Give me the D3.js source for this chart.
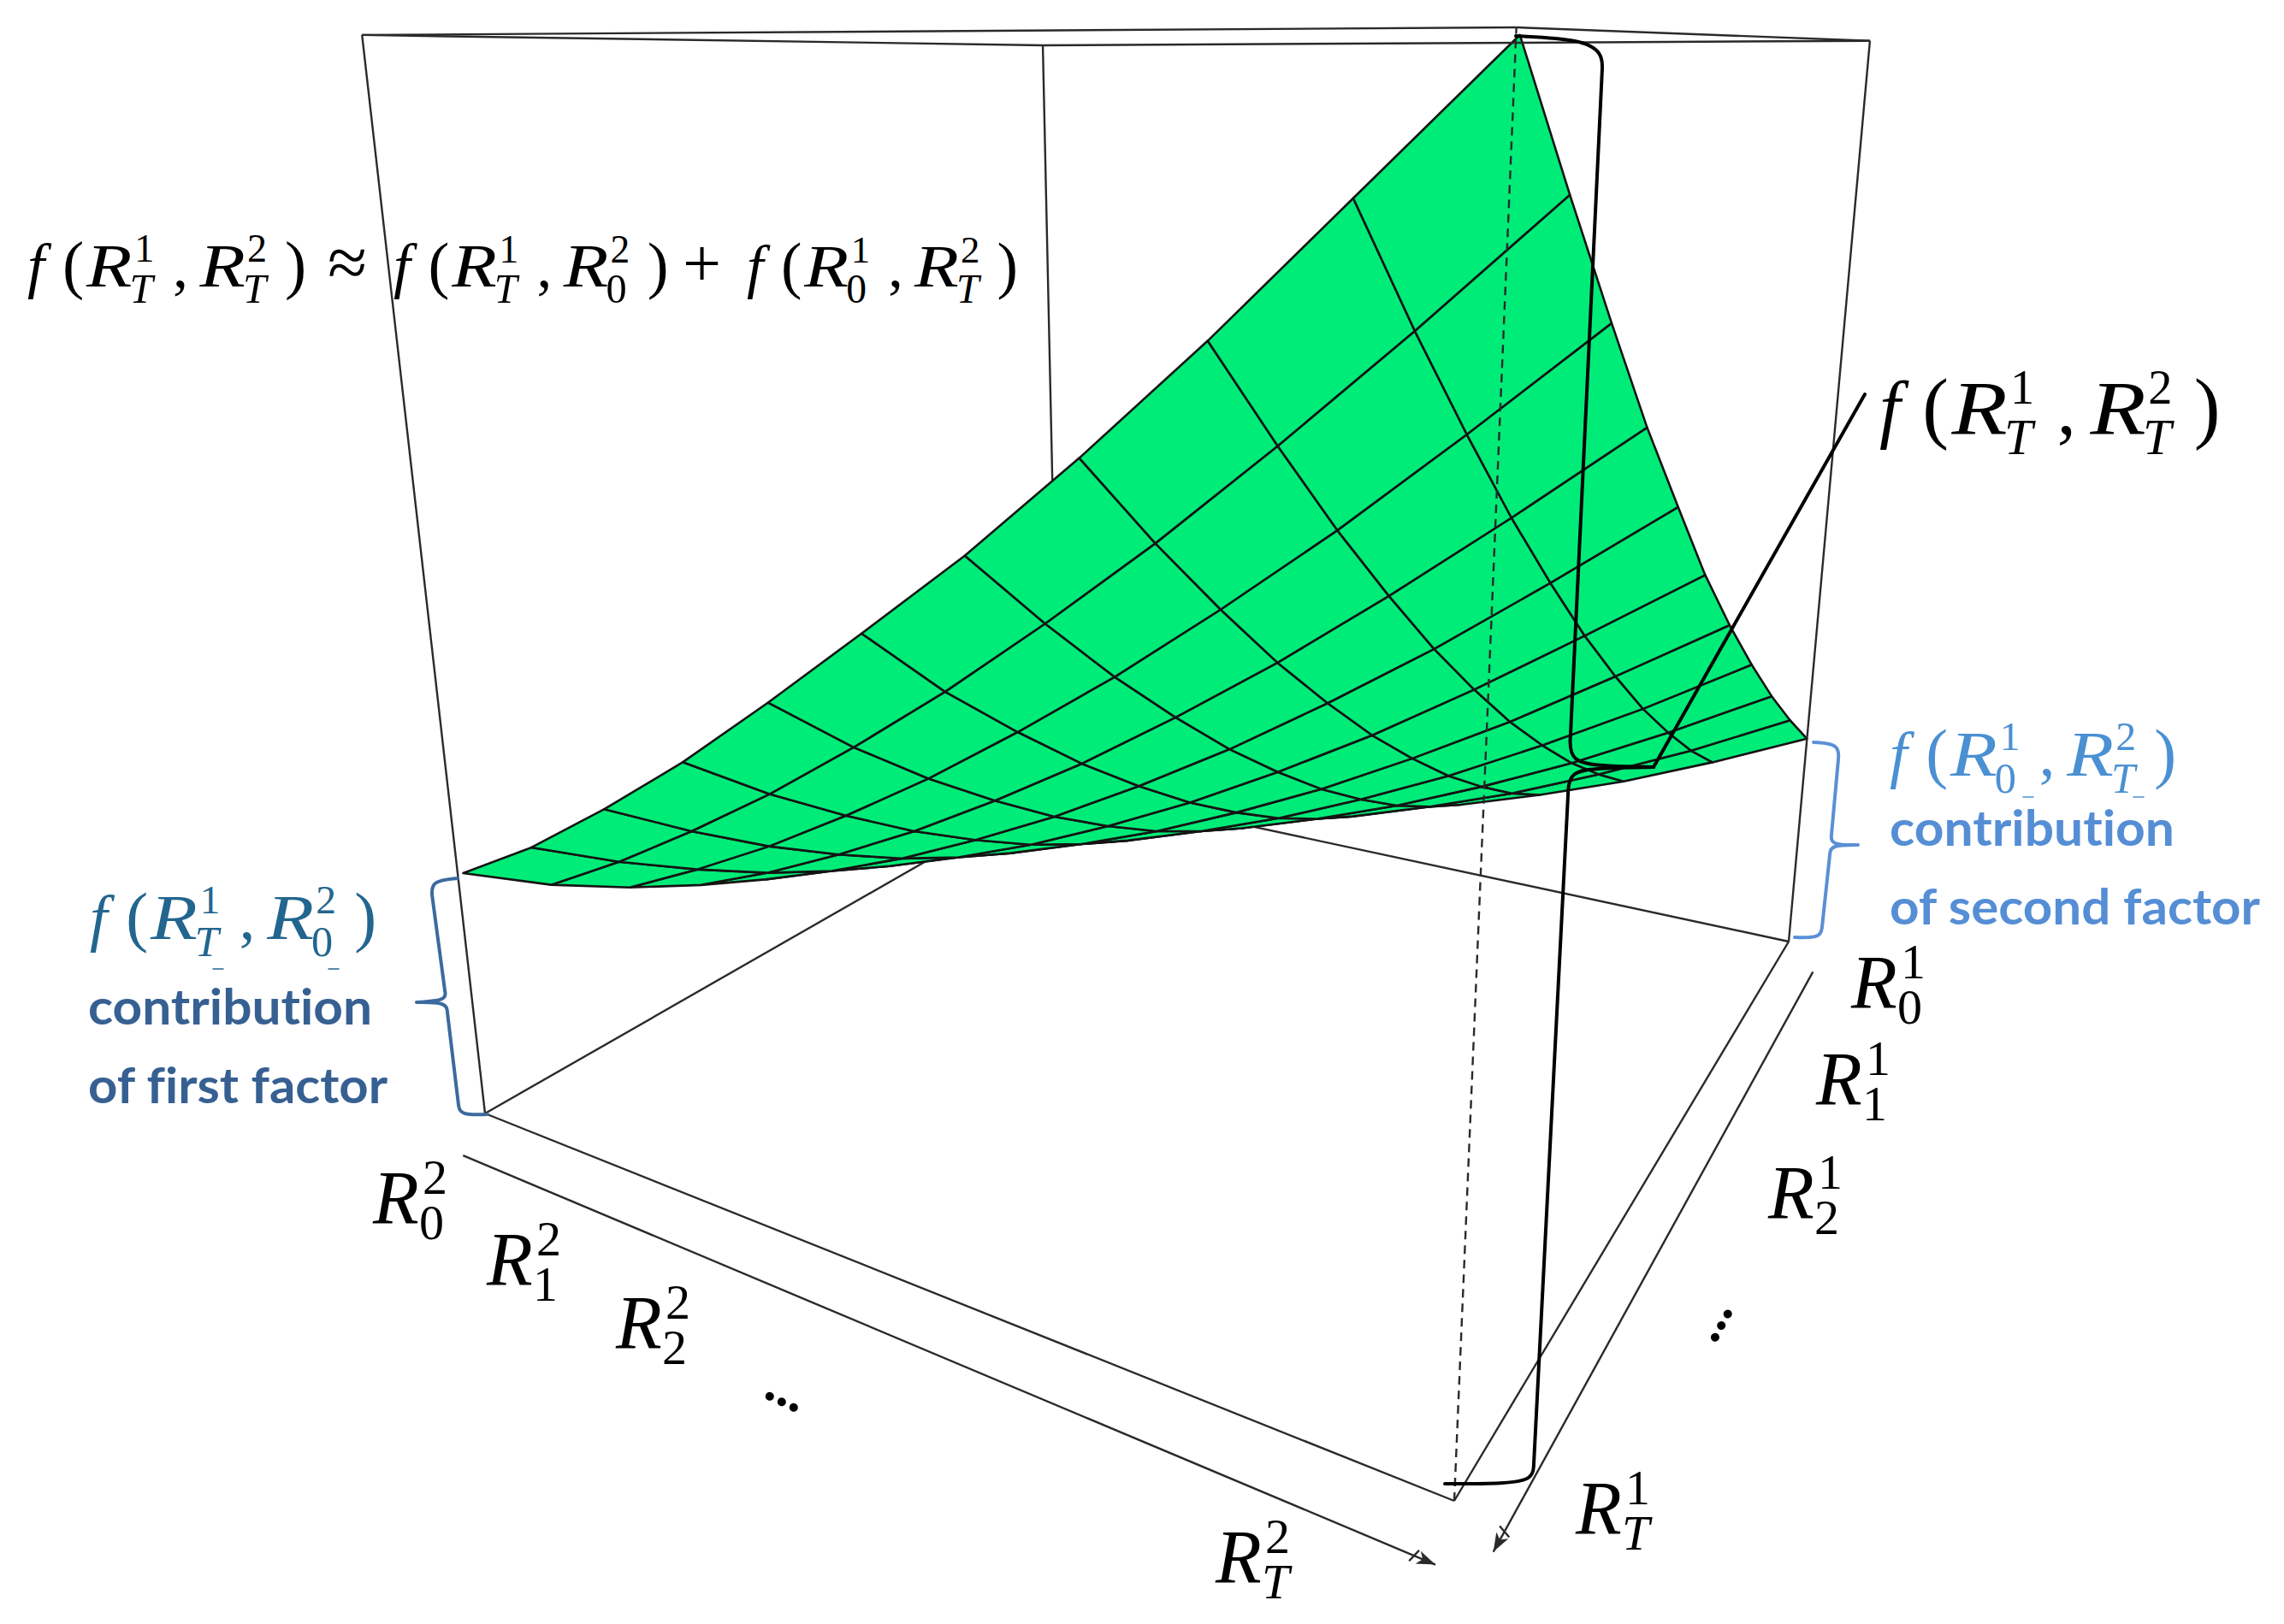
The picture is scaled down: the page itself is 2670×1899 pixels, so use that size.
<!DOCTYPE html>
<html>
<head>
<meta charset="utf-8">
<script src="https://cdn.jsdelivr.net/npm/d3@7"></script>
<style>
  body { margin: 0; background: #fff; }
  text { font-family: "Liberation Serif", serif; font-variant-ligatures: none; }
</style>
</head>
<body>
<div id="chart"></div>
<script>
var width = 2670;
var height = 1899;

// grid steps along each factor
var r1Steps = [0, 1, 2, 3, 4, 5, 6, 7, 8, 9, 10];
var r2Steps = [0, 1, 2, 3, 4, 5, 6, 7, 8, 9, 10];

// surface height, rows = R1 step, columns = R2 step
var surfaceHeight = [
  [0.000, 0.003, 0.010, 0.023, 0.040, 0.063, 0.090, 0.123, 0.160, 0.203, 0.250],
  [0.003, 0.010, 0.023, 0.040, 0.063, 0.090, 0.123, 0.160, 0.203, 0.250, 0.303],
  [0.010, 0.023, 0.040, 0.063, 0.090, 0.123, 0.160, 0.203, 0.250, 0.303, 0.360],
  [0.023, 0.040, 0.063, 0.090, 0.123, 0.160, 0.203, 0.250, 0.303, 0.360, 0.422],
  [0.040, 0.063, 0.090, 0.123, 0.160, 0.203, 0.250, 0.303, 0.360, 0.423, 0.488],
  [0.063, 0.090, 0.123, 0.160, 0.203, 0.250, 0.303, 0.360, 0.423, 0.490, 0.559],
  [0.090, 0.123, 0.160, 0.203, 0.250, 0.303, 0.360, 0.423, 0.490, 0.563, 0.639],
  [0.123, 0.160, 0.203, 0.250, 0.303, 0.360, 0.423, 0.490, 0.563, 0.640, 0.720],
  [0.160, 0.203, 0.250, 0.303, 0.360, 0.423, 0.490, 0.563, 0.640, 0.723, 0.809],
  [0.203, 0.250, 0.303, 0.360, 0.423, 0.490, 0.563, 0.640, 0.723, 0.810, 0.901],
  [0.255, 0.303, 0.361, 0.424, 0.494, 0.567, 0.641, 0.723, 0.810, 0.903, 0.996]
];

// height of the four top corners of the box: back, left, front, right
var boxTopHeight = [1.026, 1.024, 1.000, 1.005];

// axis labels
var r1Subs = ["0", "1", "2", "T"];
var r2Subs = ["0", "1", "2", "T"];

// camera, taken from the corners of the box in the picture
var floorBack = [1238, 918], floorLeft = [567, 1302], floorFront = [1700, 1755], floorRight = [2091, 1101];
var vanish = [1408, 8678];
var topFront = [1770, 32];

var u = d3.scaleLinear().domain([0, 10]).range([0, 0.994]);
var v = d3.scaleLinear().domain([0, 10]).range([0, 1]);

// unit square -> floor quad
var dx1 = floorLeft[0] - floorFront[0], dx2 = floorRight[0] - floorFront[0];
var dy1 = floorLeft[1] - floorFront[1], dy2 = floorRight[1] - floorFront[1];
var sx = floorBack[0] - floorLeft[0] + floorFront[0] - floorRight[0];
var sy = floorBack[1] - floorLeft[1] + floorFront[1] - floorRight[1];
var den = dx1 * dy2 - dx2 * dy1;
var g = (sx * dy2 - dx2 * sy) / den;
var h = (dx1 * sy - sx * dy1) / den;
var a = floorLeft[0] - floorBack[0] + g * floorLeft[0];
var b = floorRight[0] - floorBack[0] + h * floorRight[0];
var d = floorLeft[1] - floorBack[1] + g * floorLeft[1];
var e = floorRight[1] - floorBack[1] + h * floorRight[1];

// height scale comes from the peak sitting on the top front corner
var lambda = ((topFront[1] * (1 + g + h)) - (d + e + floorBack[1])) / (vanish[1] - topFront[1]);

function project(p, q, w) {
  var t = lambda * w;
  var dn = g * p + h * q + 1 + t;
  return [
    (a * p + b * q + floorBack[0] + t * vanish[0]) / dn,
    (d * p + e * q + floorBack[1] + t * vanish[1]) / dn
  ];
}

var line = d3.line();

var svg = d3.select("#chart")
  .append("svg")
  .attr("width", width)
  .attr("height", height);

var boxColor = "#2a2a2a";

function boxEdge(parent, pts) {
  return parent.append("path")
    .attr("d", line(pts))
    .attr("fill", "none")
    .attr("stroke", boxColor)
    .attr("stroke-width", 2.4);
}

var cBack = [0, 0], cLeft = [1, 0], cFront = [1, 1], cRight = [0, 1];
function top3(c, i) { return project(c[0], c[1], boxTopHeight[i]); }
function floor3(c) { return project(c[0], c[1], 0); }

// back of the box goes under the surface
boxEdge(svg, [floor3(cLeft), floor3(cBack)]);
boxEdge(svg, [floor3(cBack), floor3(cRight)]);
boxEdge(svg, [floor3(cBack), top3(cBack, 0)]);

// facets, far ones first so that the near ones cover them
var facets = [];
for (var i = 0; i < r1Steps.length - 1; i++) {
  for (var j = 0; j < r2Steps.length - 1; j++) {
    facets.push({ i: i, j: j });
  }
}
facets.sort(function (p, q) { return (p.i + p.j) - (q.i + q.j); });

function node(i, j) {
  return project(u(r1Steps[i]), v(r2Steps[j]), surfaceHeight[i][j]);
}

svg.append("g").selectAll("path")
  .data(facets)
  .enter()
  .append("path")
  .attr("d", function (f) {
    return line([node(f.i, f.j), node(f.i + 1, f.j), node(f.i + 1, f.j + 1), node(f.i, f.j + 1)]) + "Z";
  })
  .attr("fill", "#00ec78")
  .attr("stroke", "#141414")
  .attr("stroke-width", 2.6)
  .attr("stroke-linejoin", "round");

// rest of the box
boxEdge(svg, [floor3(cLeft), floor3(cFront)]);
boxEdge(svg, [floor3(cFront), floor3(cRight)]);
boxEdge(svg, [floor3(cLeft), top3(cLeft, 1)]);
boxEdge(svg, [floor3(cRight), top3(cRight, 3)]);
boxEdge(svg, [top3(cLeft, 1), top3(cBack, 0)]);
boxEdge(svg, [top3(cBack, 0), top3(cRight, 3)]);
boxEdge(svg, [top3(cRight, 3), top3(cFront, 2)]);
boxEdge(svg, [top3(cFront, 2), top3(cLeft, 1)]);
boxEdge(svg, [floor3(cFront), top3(cFront, 2)]).attr("stroke-dasharray", "10,7");

// axis arrows just outside the floor
var r2AxisAt = 1.06, r2AxisFrom = 0.042, r2AxisTo = 1.011;
var r1AxisAt = 1.04, r1AxisFrom = 0.063, r1AxisTo = 1.03;

function arrow(from, to) {
  boxEdge(svg, [from, to]);
  var ang = Math.atan2(to[1] - from[1], to[0] - from[0]);
  function off(back, side) {
    return [
      to[0] - back * Math.cos(ang) - side * Math.sin(ang),
      to[1] - back * Math.sin(ang) + side * Math.cos(ang)
    ];
  }
  svg.append("path")
    .attr("d", line([to, off(22, 8), off(16, 0), off(22, -8)]) + "Z")
    .attr("fill", boxColor);
  boxEdge(svg, [off(30, 8), off(24, -8)]);
}
arrow(project(r2AxisAt, r2AxisFrom, 0), project(r2AxisAt, r2AxisTo, 0));
arrow(project(r1AxisFrom, r1AxisAt, 0), project(r1AxisTo, r1AxisAt, 0));

// black bracket over the whole height and its leader to the label
// the pieces are: curve, straight run, curve, so only the corners get rounded
var corner = d3.line().curve(d3.curveBasis);
function stroke(pieces, color, w) {
  svg.append("path")
    .attr("d", pieces.map(function (pts) {
      return pts.length > 2 ? corner(pts) : line(pts);
    }).join(""))
    .attr("fill", "none")
    .attr("stroke", color)
    .attr("stroke-width", w)
    .attr("stroke-linejoin", "round")
    .attr("stroke-linecap", "round");
}
stroke([
  [[1772, 42], [1772, 42], [1850, 46], [1873, 62], [1873, 80]],
  [[1873, 80], [1836, 858]],
  [[1836, 858], [1834, 892], [1880, 896], [1933, 897], [1933, 897]]
], "#000", 4);
stroke([
  [[1933, 897], [1933, 897], [1870, 898], [1834, 902], [1833, 930]],
  [[1833, 930], [1793, 1712]],
  [[1793, 1712], [1792, 1730], [1760, 1735], [1689, 1735], [1689, 1735]]
], "#000", 4);
stroke([[[1933, 897], [2180, 461]]], "#000", 4);

// coloured braces
stroke([
  [[535, 1027], [535, 1027], [505, 1030], [505, 1046]],
  [[505, 1046], [520, 1158]],
  [[520, 1158], [522, 1170], [487, 1172], [487, 1172]],
  [[487, 1172], [487, 1172], [522, 1172], [523, 1184]],
  [[523, 1184], [536, 1292]],
  [[536, 1292], [538, 1304], [570, 1303], [570, 1303]]
], "#3c6a9e", 4);
stroke([
  [[2120, 868], [2120, 868], [2150, 870], [2149, 888]],
  [[2149, 888], [2141, 976]],
  [[2141, 976], [2140, 988], [2172, 988], [2172, 988]],
  [[2172, 988], [2172, 988], [2140, 988], [2139, 1000]],
  [[2139, 1000], [2130, 1084]],
  [[2130, 1084], [2128, 1097], [2098, 1096], [2098, 1096]]
], "#5b8fd6", 4);

// one glyph of a formula
function glyph(x, y, size, color, txt, italic) {
  return svg.append("text")
    .attr("x", x).attr("y", y)
    .attr("font-size", size)
    .attr("font-style", italic ? "italic" : "normal")
    .attr("fill", color)
    .text(txt);
}

// f(R,R) with stacked scripts, offsets in em
function fRR(x, y, size, color, first, second) {
  glyph(x, y, size, color, "f", true);
  glyph(x + 0.57 * size, y, size * 1.05, color, "(");
  glyph(x + 0.96 * size, y, size, color, "R", true)
    .attr("textLength", 0.74 * size).attr("lengthAdjust", "spacingAndGlyphs");
  glyph(x + 1.74 * size, y - 0.4 * size, 0.64 * size, color, first[0]);
  glyph(x + 1.66 * size, y + 0.27 * size, 0.68 * size, color, first[1], first[1] === "T");
  glyph(x + 2.36 * size, y, size, color, ",");
  glyph(x + 2.8 * size, y, size, color, "R", true)
    .attr("textLength", 0.74 * size).attr("lengthAdjust", "spacingAndGlyphs");
  glyph(x + 3.57 * size, y - 0.4 * size, 0.64 * size, color, second[0]);
  glyph(x + 3.5 * size, y + 0.27 * size, 0.68 * size, color, second[1], second[1] === "T");
  glyph(x + 4.18 * size, y, size * 1.05, color, ")");
}

fRR(32, 335, 72, "#000", ["1", "T"], ["2", "T"]);
glyph(383, 335, 84, "#000", "\u2248");
fRR(460, 335, 71, "#000", ["1", "T"], ["2", "0"]);
glyph(798, 335, 80, "#000", "+");
fRR(873, 335, 70, "#000", ["1", "0"], ["2", "T"]);

fRR(2197, 507, 88, "#000", ["1", "T"], ["2", "T"]);
fRR(2209, 907, 74, "#4a90d2", ["1", "0"], ["2", "T"]);
fRR(105, 1098, 74, "#22668f", ["1", "T"], ["2", "0"]);

// small dashes left under the coloured formulas
[[255, 1133, "#22668f"], [390, 1133, "#22668f"], [2371, 932, "#4a90d2"], [2500, 932, "#4a90d2"]].forEach(function (m) {
  stroke([[[m[0] - 6, m[1]], [m[0] + 6, m[1]]]], m[2], 1.5);
});

// contribution labels
function caption(x, y, len, color, txt) {
  svg.append("text")
    .attr("x", x).attr("y", y)
    .attr("font-size", 58)
    .attr("font-weight", 700)
    .attr("fill", color)
    .attr("textLength", len)
    .attr("lengthAdjust", "spacingAndGlyphs")
    .style("font-family", "Lato, sans-serif")
    .text(txt);
}
caption(103, 1198, 332, "#376092", "contribution");
caption(103, 1290, 350, "#376092", "of first factor");
caption(2209, 989, 333, "#558ed5", "contribution");
caption(2209, 1081, 433, "#558ed5", "of second factor");

// axis tick labels
function tickLabel(x, y, sup, sub) {
  glyph(x, y, 88, "#000", "R", true);
  glyph(x + 58, y - 34, 58, "#000", sup);
  glyph(x + 54, y + 19, 58, "#000", sub, sub === "T");
}
var r2LabelPos = [[436, 1430], [569, 1502], [720, 1576], [1421, 1850]];
var r1LabelPos = [[2164, 1178], [2123, 1291], [2067, 1424], [1842, 1793]];
r2Subs.forEach(function (s, k) { tickLabel(r2LabelPos[k][0], r2LabelPos[k][1], "2", s); });
r1Subs.forEach(function (s, k) { tickLabel(r1LabelPos[k][0], r1LabelPos[k][1], "1", s); });

// dots between the labels
function dots(x, y, rot) {
  svg.append("text")
    .attr("transform", "translate(" + x + "," + y + ") rotate(" + rot + ")")
    .attr("text-anchor", "middle")
    .attr("font-size", 62)
    .attr("font-weight", 700)
    .text("...");
}
dots(912, 1643, 25);
dots(2016, 1552, -62);
</script>
</body>
</html>
